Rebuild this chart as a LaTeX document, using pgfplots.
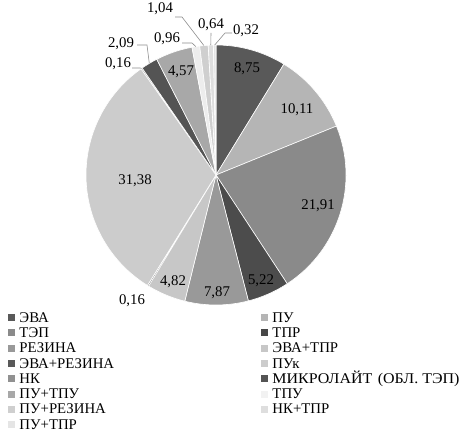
\documentclass[border=0pt]{standalone}
\usepackage{fontspec}
\setmainfont{Liberation Serif}
\usepackage{graphicx}
\usepackage{pgfplots}
\usepackage{pgfplotstable}
\pgfplotsset{compat=1.18}
\pgfdeclareplotmark{blank}{}

% share (%), grey level, label centre (pt from pie centre), leader flag, leader elbow, leader end
\pgfplotstableread{
v     g   lx   ly   ld  ex   ey   fx   fy
8.75  65  31   107  0   0    0    0    0
10.11 29  81   66   0   0    0    0    0
21.91 46  102  -30  0   0    0    0    0
5.22  70  45   -105 0   0    0    0    0
7.87  40  1    -117 0   0    0    0    0
4.82  22  -43  -106 0   0    0    0    0
0.16  65  -84  -125 0   0    0    0    0
31.38 20  -81  -5   0   0    0    0    0
0.16  43  -98  112  1   -76  107  -84  107
2.09  67  -95  132  1   -69  130  -79  130
4.57  34  -35  104  0   0    0    0    0
0.96  7   -49  137  1   -24  132  -34  132
1.04  19  -56  167  1   -34  158  -41  158
0.64  13  -5   151  1   -5   142  -5   142
0.32  10  30   145  1   9    142  16   142
}\piedata
\pgfplotstablecreatecol[expr accum={\pgfmathaccuma+\thisrow{v}}{0}]{cum}{\piedata}
\pgfplotstablecreatecol[expr={90-3.6*(\thisrow{cum}-\thisrow{v})}]{a0}{\piedata}
\pgfplotstablecreatecol[expr={90-3.6*\thisrow{cum}}]{a1}{\piedata}

\pgfplotsset{
  pieplot/.style={only marks, scatter, mark=blank, forget plot,
    visualization depends on={\thisrow{a0} \as \pA},
    visualization depends on={\thisrow{a1} \as \pB},
    visualization depends on={\thisrow{g} \as \pG},
    visualization depends on={\thisrow{v} \as \pV},
    visualization depends on={\thisrow{lx} \as \pLx},
    visualization depends on={\thisrow{ly} \as \pLy},
    visualization depends on={\thisrow{ld} \as \pLd},
    visualization depends on={\thisrow{ex} \as \pEx},
    visualization depends on={\thisrow{ey} \as \pEy},
    visualization depends on={\thisrow{fx} \as \pFx},
    visualization depends on={\thisrow{fy} \as \pFy},
    scatter/@post marker code/.code={}},
}
\newcommand\lbl[1]{\makebox[237pt][l]{#1}}

\begin{document}
\begin{tikzpicture}
\begin{axis}[hide axis, clip=false, scale only axis,
  width=469pt, height=432pt,
  xmin=0, xmax=469, ymin=0, ymax=432,
  legend columns=2,
  legend cell align=left,
  legend style={at={(axis cs:8,121)}, anchor=north west, draw=none, fill=none,
    inner sep=0pt, outer sep=0pt, row sep=0pt, column sep=0pt,
    font=\fontsize{14.8}{15}\selectfont,
    nodes={inner xsep=4.5pt, inner ysep=0.65pt, text height=10.5pt, text depth=3.5pt}},
  legend image code/.code={\fill[draw=none, #1] (0pt,-2.5pt) rectangle (7pt,4.5pt);},
]
\addplot[pieplot, scatter/@pre marker code/.code={%
  \fill[black!\pG, draw=white, line width=0.6pt] (0pt,0pt) -- (\pA:130pt)
    arc[start angle=\pA, end angle=\pB, radius=130pt] -- cycle;}]
  table[x expr=216, y expr=257] {\piedata};
\addplot[pieplot, scatter/@pre marker code/.code={%
  \pgfmathsetmacro\pM{(\pA+\pB)/2}%
  \ifdim\pLd pt>0.5pt
    \draw[black!45, line width=0.6pt] (\pM:130pt) -- (\pEx pt,\pEy pt) -- (\pFx pt,\pFy pt);
  \fi
  \node[anchor=base, yshift=-4.8pt, inner sep=0pt, font=\fontsize{14.8}{15}\selectfont]
    at (\pLx pt,\pLy pt)
    {\pgfmathprintnumber[fixed, fixed zerofill, precision=2, use comma, assume math mode=true]{\pV}};}]
  table[x expr=216, y expr=257] {\piedata};

\addlegendimage{fill=black!65}\addlegendentry{\lbl{ЭВА}}
\addlegendimage{fill=black!29}\addlegendentry{ПУ}
\addlegendimage{fill=black!46}\addlegendentry{\lbl{ТЭП}}
\addlegendimage{fill=black!72}\addlegendentry{ТПР}
\addlegendimage{fill=black!40}\addlegendentry{\lbl{РЕЗИНА}}
\addlegendimage{fill=black!22}\addlegendentry{ЭВА+ТПР}
\addlegendimage{fill=black!65}\addlegendentry{\lbl{ЭВА+РЕЗИНА}}
\addlegendimage{fill=black!20}\addlegendentry{ПУк}
\addlegendimage{fill=black!43}\addlegendentry{\lbl{НК}}
\addlegendimage{fill=black!67}\addlegendentry{\scalebox{1.08}[1]{МИКРОЛАЙТ\hspace{5pt}(ОБЛ. ТЭП)}}
\addlegendimage{fill=black!34}\addlegendentry{\lbl{ПУ+ТПУ}}
\addlegendimage{fill=black!5, draw=black!40, line width=0.5pt}\addlegendentry{ТПУ}
\addlegendimage{fill=black!19}\addlegendentry{\lbl{ПУ+РЕЗИНА}}
\addlegendimage{fill=black!13}\addlegendentry{НК+ТПР}
\addlegendimage{fill=black!10}\addlegendentry{\lbl{ПУ+ТПР}}
\end{axis}
\path (current axis.south west) rectangle (current axis.north east);
\end{tikzpicture}
\end{document}
